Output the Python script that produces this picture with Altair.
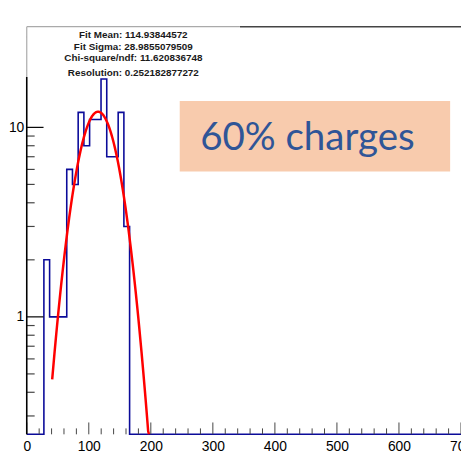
import altair as alt
import numpy as np
import pandas as pd

# ---- data ----
n_bins = 76
x_lo, x_hi = 0, 700
counts_head = [0, 0, 0, 2, 1, 1, 1, 6, 5, 12, 8, 11, 11, 18, 7, 7, 12, 3]  # remaining bins are 0

fit_mean = 114.93844572
fit_sigma = 28.9855079509
fit_amp = 12.1
fit_from, fit_to = 41, 197

stats_lines = [
    "Fit Mean: 114.93844572",
    "Fit Sigma: 28.9855079509",
    "Chi-square/ndf: 11.620836748",
    "Resolution: 0.252182877272",
]
annot_text = "60% charges"

x_major = [0, 100, 200, 300, 400, 500, 600, 700]
x_minor = [v for v in range(0, 701, 20) if v % 100]
y_major = [1, 10]
y_minor = [0.3, 0.4, 0.5, 0.6, 0.7, 0.8, 0.9, 2, 3, 4, 5, 6, 7, 8, 9, 20, 30]

# ---- tables ----
W, H = 440, 413
bw = (x_hi - x_lo) / n_bins
counts = counts_head + [0] * (n_bins - len(counts_head))
edges = [x_lo + k * bw for k in range(n_bins)] + [x_hi]
vals = counts + [0]
hist_df = pd.DataFrame({"x": edges, "n": vals})
hist_df["yp"] = np.where(hist_df["n"] > 0, hist_df["n"], 0.05)

fx = np.linspace(fit_from, fit_to, 120)
fit_df = pd.DataFrame({"x": fx, "yp": fit_amp * np.exp(-((fx - fit_mean) ** 2) / (2 * fit_sigma ** 2))})

xs = alt.Scale(domain=[x_lo, x_hi], nice=False, zero=False)
ys = alt.Scale(type="log", domain=[0.24, 33.98], nice=False, clamp=True)

FONT = "Liberation Sans"
x_axis = alt.Axis(
    values=x_major, ticks=False, tickSize=0, domain=False, grid=False,
    labelFont=FONT, labelFontSize=14, labelColor="#000", labelPadding=5,
    title=None, format="d", labelFlush=False, labelOverlap=False)
y_axis = alt.Axis(
    values=y_major, ticks=False, tickSize=0, domain=False, grid=False,
    labelFont=FONT, labelFontSize=14, labelColor="#000", labelPadding=3,
    title=None, format="d", labelOverlap=False)

X = lambda f: alt.X(f, scale=xs, axis=x_axis)
Y = lambda f: alt.Y(f, scale=ys, axis=y_axis)

hist = alt.Chart(hist_df).mark_line(
    interpolate="step-after", color="#0b0b99", strokeWidth=1.6
).encode(x=X("x:Q"), y=Y("yp:Q"))

fit = alt.Chart(fit_df).mark_line(color="#ff0000", strokeWidth=2.5).encode(
    x=X("x:Q"), y=Y("yp:Q"))

xmaj = alt.Chart(pd.DataFrame({"x": x_major})).mark_rule(color="#444", strokeWidth=1).encode(
    x=X("x:Q"), y=alt.value(H), y2=alt.value(H - 12))
xmin = alt.Chart(pd.DataFrame({"x": x_minor})).mark_rule(color="#444", strokeWidth=1).encode(
    x=X("x:Q"), y=alt.value(H), y2=alt.value(H - 6))
ymaj = alt.Chart(pd.DataFrame({"yp": y_major})).mark_rule(color="#000", strokeWidth=1.2).encode(
    y=Y("yp:Q"), x=alt.value(0), x2=alt.value(17))
ymin = alt.Chart(pd.DataFrame({"yp": y_minor})).mark_rule(color="#444", strokeWidth=1.2).encode(
    y=Y("yp:Q"), x=alt.value(0), x2=alt.value(8))

one = pd.DataFrame({"a": [0]})
# frame / stats box
left_axis = alt.Chart(one).mark_rule(color="#000", strokeWidth=1.6).encode(
    x=alt.value(0), y=alt.value(51), y2=alt.value(H))
top_frame = alt.Chart(one).mark_rule(color="#444", strokeWidth=1.5).encode(
    x=alt.value(216), x2=alt.value(W), y=alt.value(0))
stats_bg = alt.Chart(one).mark_rect(fill="white").encode(
    x=alt.value(0), x2=alt.value(216), y=alt.value(0), y2=alt.value(51))
stats_top = alt.Chart(one).mark_rule(color="#aaa", strokeWidth=1.2).encode(
    x=alt.value(0), x2=alt.value(216), y=alt.value(0))
stats_left = alt.Chart(one).mark_rule(color="#aaa", strokeWidth=1.2).encode(
    x=alt.value(0), y=alt.value(0), y2=alt.value(51))

stat_baselines = [11.5, 23.3, 35, 50]
stats_txt = [
    alt.Chart(one).mark_text(
        font=FONT, fontSize=10, fontWeight="bold", color="#1a1a1a",
        align="center", baseline="alphabetic"
    ).encode(x=alt.value(108), y=alt.value(b), text=alt.value(t))
    for t, b in zip(stats_lines, stat_baselines)
]

annot_box = alt.Chart(one).mark_rect(fill="#F8CBAD").encode(
    x=alt.value(155), x2=alt.value(429), y=alt.value(75.3), y2=alt.value(146.7))
annot = alt.Chart(one).mark_text(
    font="Lato", fontSize=39, color="#2F5597", align="left", baseline="alphabetic"
).encode(x=alt.value(175.7), y=alt.value(124.6), text=alt.value(annot_text))

chart = alt.layer(
    hist, annot_box, annot, fit, xmin, xmaj, ymin, ymaj, left_axis, top_frame,
    stats_bg, stats_top, stats_left, *stats_txt
).properties(
    width=W, height=H,
    padding={"left": 19, "top": 16, "right": 0, "bottom": 18},
    autosize=alt.AutoSizeParams(type="none"),
    background="white",
).configure_view(stroke=None)

chart.save("out.html", embed_options={"renderer": "svg", "actions": False})
